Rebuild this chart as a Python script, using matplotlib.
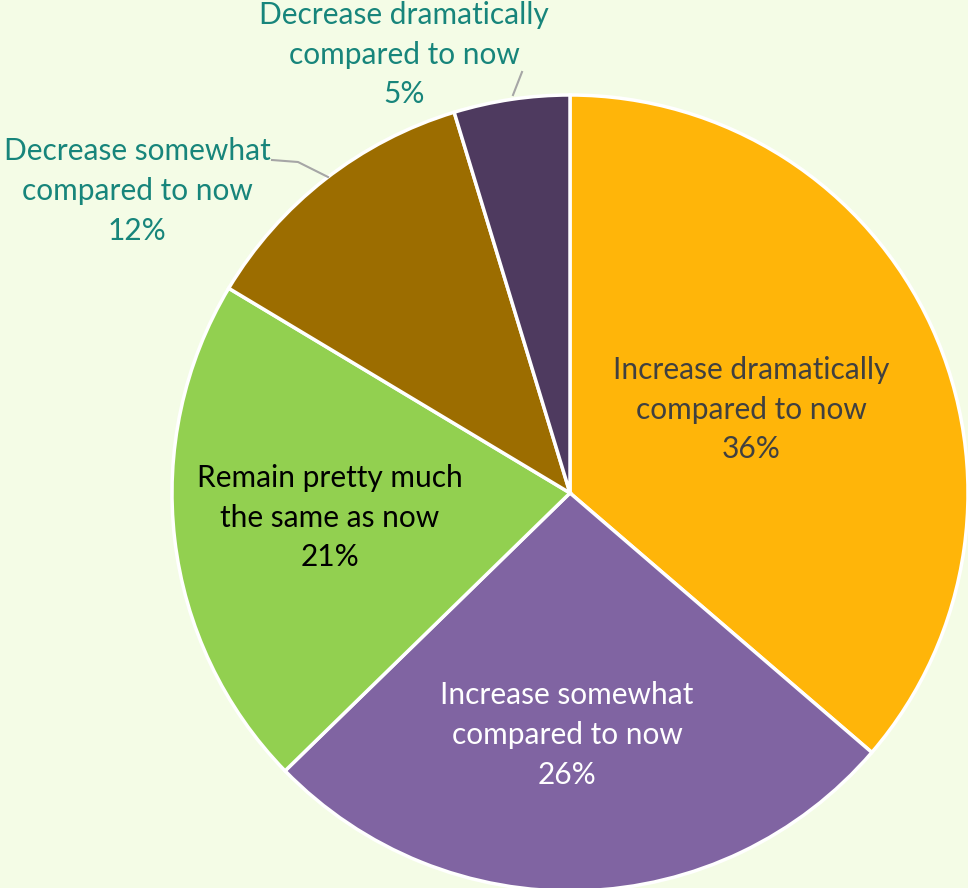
import numpy as np
import matplotlib.pyplot as plt

categories = ["Increase dramatically\ncompared to now",
              "Increase somewhat\ncompared to now",
              "Remain pretty much\nthe same as now",
              "Decrease somewhat\ncompared to now",
              "Decrease dramatically\ncompared to now"]
values = [36.3, 26.4, 20.9, 11.7, 4.7]
colors = ["#FFB509", "#8064A2", "#92D050", "#9C6D00", "#4E3A5F"]
text_colors = ["#404040", "white", "black", "#17857B", "#17857B"]

plt.rcParams['font.family'] = ['Lato', 'DejaVu Sans']
bg = "#F4FCE6"

fig = plt.figure(figsize=(9.68, 8.88), dpi=100, facecolor=bg)
ax = fig.add_axes([0, 0, 1, 1])
ax.set_facecolor(bg)

cx, cy, r = 570, 395, 398
wedges, _ = ax.pie(values, colors=colors, startangle=90, counterclock=False,
                   center=(cx, cy), radius=r,
                   wedgeprops=dict(edgecolor='white', linewidth=2.5))
ax.set_xlim(0, 968)
ax.set_ylim(0, 888)
ax.set_aspect('equal')
ax.axis('off')

fs = 21.5
# label anchors (x, y) in axes data units
label_pos = [(751, 478), (567, 153), (330, 370), (137, 697), (404, 833)]
for i in range(len(values)):
    lab = "%s\n%.0f%%" % (categories[i], values[i])
    ax.text(label_pos[i][0], label_pos[i][1], lab, ha='center', va='center',
            fontsize=fs, color=text_colors[i], linespacing=1.5)

# leader lines for the outside labels
ax.plot([328, 298, 272], [711, 726, 728], color='#A6A6A6', lw=1.5)
ax.plot([513, 522], [793, 816], color='#A6A6A6', lw=1.5)

fig.savefig("out.png", dpi=100, facecolor=bg)
